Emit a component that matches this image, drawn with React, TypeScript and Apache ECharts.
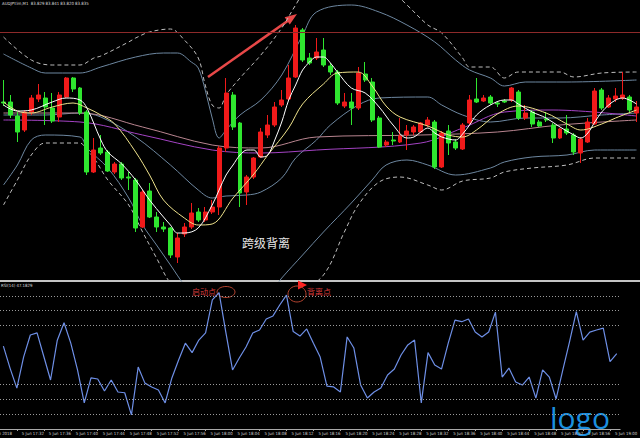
import React, { useEffect, useRef } from "react";
import * as echarts from "echarts";

// ---- categories: 1-minute bars from 17:30 ----
const barCount = 92;
const categories: string[] = [];
for (let i = 0; i < barCount; i++) {
  const m = 30 + i;
  const h = 17 + Math.floor(m / 60);
  const mm = m % 60;
  categories.push(`${h}:${String(mm).padStart(2, "0")}`);
}
const datePrefix = "5 Jun ";
const firstDateLabel = "5 Jun 2018";

// ---- candles [open, close, low, high] ----
const candles: number[][] = [
  [83.840, 83.839, 83.836, 83.862], [83.840, 83.827, 83.824, 83.847], [83.826, 83.810, 83.800, 83.830],
  [83.812, 83.830, 83.810, 83.832], [83.830, 83.844, 83.827, 83.847], [83.843, 83.847, 83.840, 83.858],
  [83.844, 83.835, 83.817, 83.850], [83.834, 83.821, 83.819, 83.849], [83.825, 83.847, 83.820, 83.850],
  [83.845, 83.864, 83.844, 83.865], [83.864, 83.853, 83.850, 83.865], [83.854, 83.829, 83.827, 83.855],
  [83.830, 83.770, 83.767, 83.832], [83.770, 83.792, 83.769, 83.804], [83.794, 83.789, 83.787, 83.807],
  [83.790, 83.771, 83.770, 83.792], [83.770, 83.778, 83.768, 83.780], [83.778, 83.764, 83.762, 83.780],
  [83.765, 83.764, 83.752, 83.770], [83.762, 83.714, 83.710, 83.764], [83.715, 83.750, 83.714, 83.752],
  [83.751, 83.725, 83.724, 83.759], [83.725, 83.715, 83.710, 83.730], [83.715, 83.713, 83.710, 83.720],
  [83.714, 83.687, 83.684, 83.715], [83.685, 83.704, 83.679, 83.709], [83.708, 83.715, 83.705, 83.719],
  [83.715, 83.729, 83.713, 83.739], [83.730, 83.722, 83.720, 83.734], [83.722, 83.730, 83.720, 83.735],
  [83.730, 83.735, 83.728, 83.742], [83.735, 83.794, 83.727, 83.796], [83.794, 83.849, 83.790, 83.864],
  [83.847, 83.815, 83.812, 83.850], [83.819, 83.749, 83.735, 83.820], [83.750, 83.765, 83.737, 83.767],
  [83.765, 83.784, 83.763, 83.785], [83.785, 83.810, 83.784, 83.814], [83.807, 83.817, 83.804, 83.827],
  [83.817, 83.835, 83.815, 83.840], [83.837, 83.842, 83.835, 83.852], [83.843, 83.864, 83.842, 83.877],
  [83.865, 83.914, 83.864, 83.917], [83.912, 83.882, 83.880, 83.914], [83.884, 83.879, 83.877, 83.889],
  [83.884, 83.890, 83.882, 83.904], [83.892, 83.877, 83.875, 83.904], [83.876, 83.870, 83.867, 83.879],
  [83.870, 83.839, 83.837, 83.872], [83.836, 83.840, 83.834, 83.849], [83.840, 83.834, 83.817, 83.849],
  [83.834, 83.869, 83.832, 83.875], [83.868, 83.862, 83.860, 83.880], [83.860, 83.822, 83.820, 83.864],
  [83.824, 83.795, 83.794, 83.826], [83.797, 83.800, 83.795, 83.802], [83.802, 83.801, 83.797, 83.810],
  [83.800, 83.806, 83.799, 83.824], [83.807, 83.811, 83.792, 83.817], [83.810, 83.815, 83.807, 83.817],
  [83.810, 83.819, 83.809, 83.820], [83.817, 83.822, 83.815, 83.825], [83.820, 83.775, 83.773, 83.822],
  [83.775, 83.809, 83.774, 83.811], [83.811, 83.799, 83.787, 83.817], [83.800, 83.794, 83.792, 83.803],
  [83.793, 83.817, 83.792, 83.819], [83.819, 83.842, 83.817, 83.847], [83.843, 83.840, 83.839, 83.864],
  [83.841, 83.844, 83.840, 83.847], [83.845, 83.839, 83.837, 83.847], [83.839, 83.838, 83.835, 83.841],
  [83.841, 83.840, 83.839, 83.843], [83.842, 83.854, 83.840, 83.855], [83.850, 83.824, 83.822, 83.852],
  [83.824, 83.829, 83.822, 83.837], [83.830, 83.818, 83.815, 83.832], [83.820, 83.816, 83.815, 83.822],
  [83.823, 83.822, 83.820, 83.830], [83.817, 83.804, 83.799, 83.819], [83.804, 83.813, 83.803, 83.814],
  [83.813, 83.809, 83.807, 83.827], [83.807, 83.790, 83.787, 83.809], [83.789, 83.803, 83.779, 83.805],
  [83.800, 83.820, 83.799, 83.824], [83.818, 83.851, 83.817, 83.854], [83.852, 83.834, 83.832, 83.854],
  [83.835, 83.844, 83.834, 83.847], [83.843, 83.846, 83.840, 83.854], [83.844, 83.847, 83.842, 83.870],
  [83.845, 83.832, 83.830, 83.847], [83.829, 83.835, 83.820, 83.841],
];

// ---- overlay lines, read at bar indices: [barIndex, price] ----
const whiteMA: number[][] = [
  [0, 83.837], [2, 83.831], [4, 83.832], [7, 83.840], [9, 83.844], [11, 83.842], [12, 83.834], [14, 83.802],
  [15, 83.790], [17, 83.778], [19, 83.762], [21, 83.742], [23, 83.725], [24, 83.717], [25, 83.709], [26, 83.709],
  [28, 83.714], [30, 83.737], [31, 83.752], [32, 83.767], [33, 83.777], [34, 83.787], [35, 83.792], [36, 83.792],
  [37, 83.785], [38, 83.787], [39, 83.802], [40, 83.820], [41, 83.842], [42, 83.857], [43, 83.872], [44, 83.880],
  [45, 83.885], [46, 83.885], [47, 83.879], [48, 83.870], [50, 83.854], [52, 83.849], [54, 83.835], [56, 83.817],
  [58, 83.804], [59, 83.805], [60, 83.810], [61, 83.814], [62, 83.809], [63, 83.805], [65, 83.802], [66, 83.808],
  [67, 83.817], [68, 83.827], [70, 83.837], [72, 83.842], [73, 83.842], [74, 83.838], [76, 83.830], [78, 83.824],
  [80, 83.815], [82, 83.807], [83, 83.804], [84, 83.809], [85, 83.820], [86, 83.830], [87, 83.837], [88, 83.842],
  [89, 83.844], [91, 83.838],
];
const yellowMA: number[][] = [
  [0, 83.840], [2, 83.831], [4, 83.829], [7, 83.835], [10, 83.839], [12, 83.834], [14, 83.827], [16, 83.818],
  [19, 83.790], [21, 83.767], [23, 83.742], [26, 83.724], [28, 83.717], [30, 83.718], [33, 83.744], [36, 83.768],
  [38, 83.787], [41, 83.814], [43, 83.838], [46, 83.858], [48, 83.869], [51, 83.870], [53, 83.856], [55, 83.836],
  [57, 83.825], [61, 83.816], [64, 83.807], [66, 83.805], [68, 83.812], [71, 83.828], [74, 83.836], [78, 83.829],
  [81, 83.818], [83, 83.812], [86, 83.818], [88, 83.824], [91, 83.832],
];
const upperDashed: number[][] = [
  [0, 83.905], [4, 83.882], [7, 83.877], [11, 83.877], [13, 83.884], [14, 83.886], [18, 83.900], [19, 83.904],
  [21, 83.910], [24, 83.913], [26, 83.902], [28, 83.884], [29, 83.857], [30, 83.837], [31, 83.834], [32, 83.847],
  [34, 83.864], [37, 83.887], [40, 83.914], [42, 83.937], [44, 83.957], [48, 83.967], [54, 83.962], [58, 83.937],
  [61, 83.917], [63, 83.909], [66, 83.884], [67, 83.875], [70, 83.875], [72, 83.864], [74, 83.870], [80, 83.870],
  [82, 83.865], [86, 83.869], [91, 83.870],
];
const upperBand: number[][] = [
  [0, 83.888], [4, 83.874], [6, 83.869], [11, 83.869], [14, 83.875], [19, 83.885], [23, 83.889], [25, 83.889],
  [27, 83.880], [28, 83.874], [29, 83.852], [30, 83.824], [31, 83.804], [32, 83.812], [34, 83.827], [37, 83.842],
  [40, 83.867], [43, 83.907], [45, 83.930], [50, 83.937], [54, 83.930], [58, 83.917], [62, 83.900], [65, 83.882],
  [67, 83.872], [70, 83.864], [72, 83.856], [75, 83.860], [81, 83.860], [91, 83.862],
];
const middleBand: number[][] = [
  [0, 83.827], [6, 83.827], [11, 83.829], [14, 83.825], [19, 83.805], [24, 83.777], [28, 83.752], [30, 83.744],
  [32, 83.746], [35, 83.747], [37, 83.750], [40, 83.764], [42, 83.784], [45, 83.802], [47, 83.817], [51, 83.837],
  [54, 83.844], [61, 83.845], [63, 83.837], [66, 83.827], [70, 83.820], [75, 83.824], [80, 83.824], [86, 83.827],
  [91, 83.829],
];
const lowerBand: number[][] = [
  [0, 83.757], [2, 83.777], [4, 83.802], [6, 83.807], [11, 83.805], [12, 83.794], [15, 83.774], [18, 83.744],
  [20, 83.717], [22, 83.697], [24, 83.677], [26, 83.657], [28, 83.642], [34, 83.632], [38, 83.647], [40, 83.664],
  [43, 83.687], [46, 83.710], [50, 83.739], [53, 83.762], [55, 83.777], [58, 83.782], [61, 83.777], [65, 83.767],
  [70, 83.774], [72, 83.780], [76, 83.785], [81, 83.787], [85, 83.792], [91, 83.792],
];
const lowerDashed: number[][] = [
  [0, 83.737], [2, 83.762], [4, 83.787], [6, 83.799], [11, 83.799], [12, 83.792], [13, 83.784], [15, 83.762],
  [18, 83.737], [20, 83.710], [22, 83.684], [24, 83.659], [28, 83.632], [37, 83.627], [42, 83.647], [46, 83.667],
  [49, 83.710], [51, 83.737], [54, 83.760], [57, 83.765], [61, 83.757], [63, 83.752], [66, 83.761], [70, 83.764],
  [72, 83.770], [76, 83.774], [81, 83.777], [85, 83.784], [91, 83.784],
];
const pinkMA: number[][] = [
  [0, 83.829], [11, 83.829], [20, 83.815], [30, 83.797], [37, 83.794], [45, 83.805], [60, 83.807], [71, 83.810],
  [80, 83.817], [91, 83.822],
];
const purpleMA: number[][] = [
  [0, 83.822], [11, 83.820], [20, 83.807], [30, 83.792], [37, 83.789], [45, 83.792], [60, 83.799], [66, 83.814],
  [72, 83.830], [79, 83.832], [91, 83.826],
];
const resistanceLevel = 83.907;

// ---- RSI(14) ----
const rsi: number[] = [
  56, 41, 27.6, 48.6, 63.5, 64.9, 49, 33.1, 60, 71.8, 58, 39.9, 17.6, 34.5, 33.8, 25.7, 33.1, 25, 24.5, 9.5,
  41.9, 31, 28.4, 26.4, 17.6, 34.5, 46.6, 58, 51.6, 60.1, 64.9, 87.2, 92.1, 65.5, 39.9, 48, 55.4, 64.9, 66.9, 74.3,
  76.4, 83.8, 90.5, 65.8, 62.8, 67.6, 58, 48.6, 29, 28.4, 25, 62.2, 54.7, 29.7, 20.9, 25, 27.7, 36.5, 40.5, 50,
  56.8, 60.1, 17.6, 51.6, 43.2, 40.5, 58, 73.6, 72.5, 74.3, 65.5, 62.2, 65.5, 79, 35.1, 41.2, 31.8, 29.7, 35.1, 20.9,
  39.9, 35.1, 20.3, 39.9, 59, 79.3, 60.1, 65.5, 66.9, 68.2, 45.5, 51,
];
const rsiLevels = [10, 20, 30, 70, 80, 90];

const headerText = "AUDJPY.lm,M1  83.829 83.841 83.820 83.835";
const rsiTitle = "RSI(14) 47.1829";
const smallFont = "Liberation Sans Narrow, DejaVu Sans Condensed, Liberation Sans";

export default function App() {
  const ref = useRef<HTMLDivElement>(null);
  useEffect(() => {
    document.body.style.margin = "0";
    document.body.style.background = "#000";
    if (!ref.current) return;
    const chart = echarts.init(ref.current, undefined, { renderer: "svg" });
    const lineS = (data: number[][], color: string, width: number, type: any = "solid", z = 3) => ({
      type: "line",
      xAxisIndex: 0,
      yAxisIndex: 0,
      data,
      showSymbol: false,
      smooth: 0.35,
      clip: true,
      silent: true,
      z,
      lineStyle: { color, width, type },
    });
    const tickFilter = (i: number) => i % 4 === 2;
    chart.setOption({
      animation: false,
      backgroundColor: "#000000",
      grid: [
        { left: 0, width: 641, top: 0, height: 281 },
        { left: 0, width: 641, top: 281, height: 148 },
      ],
      xAxis: [
        { type: "category", gridIndex: 0, data: categories, boundaryGap: true, show: false },
        {
          type: "category",
          gridIndex: 1,
          data: categories,
          boundaryGap: true,
          axisLine: { show: true, lineStyle: { color: "#a8a8a8", width: 1 } },
          axisTick: { show: true, interval: tickFilter, alignWithLabel: true, length: 2, lineStyle: { color: "#a8a8a8" } },
          axisLabel: {
            show: true,
            interval: tickFilter,
            formatter: (v: string) => datePrefix + v,
            fontSize: 4.3,
            color: "#cfcfcf",
            fontFamily: smallFont,
            align: "left",
            margin: 2,
            padding: [0, 0, 0, 5],
            hideOverlap: false,
          },
          splitLine: { show: false },
        },
      ],
      yAxis: [
        { type: "value", gridIndex: 0, min: 83.661, max: 83.942, show: false, splitLine: { show: false } },
        { type: "value", gridIndex: 1, min: 0, max: 100, show: false, splitLine: { show: false } },
      ],
      series: [
        lineS(upperDashed, "#bdbdbd", 1, [4, 3], 1),
        lineS(lowerDashed, "#bdbdbd", 1, [4, 3], 1),
        lineS(upperBand, "#6d87a0", 1, "solid", 1),
        lineS(lowerBand, "#6d87a0", 1, "solid", 1),
        lineS(middleBand, "#6d87a0", 1, "solid", 1),
        lineS(pinkMA, "#b98590", 1, "solid", 1),
        lineS(purpleMA, "#a443c4", 1, "solid", 1),
        {
          type: "candlestick",
          xAxisIndex: 0,
          yAxisIndex: 0,
          data: candles,
          barWidth: "64%",
          z: 2,
          itemStyle: {
            color: "#f01a1a",
            color0: "#2fe62f",
            borderColor: "#f01a1a",
            borderColor0: "#2fe62f",
            borderWidth: 1,
          },
          markLine: {
            silent: true,
            symbol: "none",
            label: { show: false },
            lineStyle: { color: "#8e2a2a", width: 1, type: "solid" },
            data: [{ yAxis: resistanceLevel }],
          },
        },
        lineS(yellowMA, "#efe38c", 1, "solid", 4),
        lineS(whiteMA, "#ffffff", 1, "solid", 5),
        {
          type: "line",
          xAxisIndex: 1,
          yAxisIndex: 1,
          data: rsi,
          showSymbol: false,
          silent: true,
          lineStyle: { color: "#6e8fe6", width: 1.2 },
          markLine: {
            silent: true,
            symbol: "none",
            label: { show: false },
            lineStyle: { color: "#9a9a9a", width: 1, type: [1, 2] },
            data: rsiLevels.map((v) => ({ yAxis: v })),
          },
        },
      ],
      graphic: [
        { type: "rect", shape: { x: 0, y: 280, width: 640, height: 2 }, style: { fill: "#c4c4c4" }, silent: true },
        {
          type: "text", x: 2, y: 1,
          style: { text: headerText, fill: "#dcdcdc", fontSize: 4.3, fontFamily: smallFont },
        },
        {
          type: "text", x: 1, y: 283,
          style: { text: rsiTitle, fill: "#dcdcdc", fontSize: 4.3, fontFamily: smallFont },
        },
        {
          type: "text", x: 12, y: 431,
          style: { text: firstDateLabel, fill: "#cfcfcf", fontSize: 4.3, fontFamily: smallFont, align: "right" },
        },
        {
          type: "text", x: 242, y: 236,
          style: { text: "跨级背离", fill: "#e6e6e6", fontSize: 12, fontFamily: "Noto Sans CJK SC" },
        },
        // main arrow
        {
          type: "line",
          shape: { x1: 208, y1: 77, x2: 289, y2: 20 },
          style: { stroke: "#e84848", lineWidth: 2.5 },
          silent: true,
        },
        {
          type: "polygon",
          shape: { points: [[297, 14], [289.8, 24.6], [284.6, 17.2]] },
          style: { fill: "#e84848" },
          silent: true,
        },
        // RSI arrow
        {
          type: "line",
          shape: { x1: 216, y1: 285, x2: 299, y2: 285 },
          style: {
            stroke: new echarts.graphic.LinearGradient(0, 0, 1, 0, [
              { offset: 0, color: "#e86a6a" },
              { offset: 1, color: "#ff2222" },
            ]),
            lineWidth: 3,
          },
          silent: true,
        },
        {
          type: "polygon",
          shape: { points: [[307, 285], [298, 280.5], [298, 289.5]] },
          style: { fill: "#ff2222" },
          silent: true,
        },
        {
          type: "ellipse",
          shape: { cx: 226, cy: 292, rx: 9, ry: 5.5 },
          style: { fill: "none", stroke: "#b2432f", lineWidth: 1 },
          silent: true,
        },
        {
          type: "ellipse",
          shape: { cx: 297, cy: 294, rx: 9, ry: 8 },
          style: { fill: "none", stroke: "#b2432f", lineWidth: 1 },
          silent: true,
        },
        {
          type: "text", x: 192, y: 287,
          style: { text: "启动点", fill: "#d83a3a", fontSize: 8, fontFamily: "Noto Sans CJK SC" },
        },
        {
          type: "text", x: 307, y: 287,
          style: { text: "背离点", fill: "#d83a3a", fontSize: 8, fontFamily: "Noto Sans CJK SC" },
        },
        {
          type: "text", x: 550, y: 417,
          style: {
            text: "logo", fill: "#1b8fdf", fontSize: 30, fontFamily: "Open Sans",
            verticalAlign: "middle",
          },
        },
      ],
    });
    return () => chart.dispose();
  }, []);
  return (
    <div
      ref={ref}
      style={{ position: "fixed", left: 0, top: 0, width: 640, height: 438, background: "#000" }}
    />
  );
}
